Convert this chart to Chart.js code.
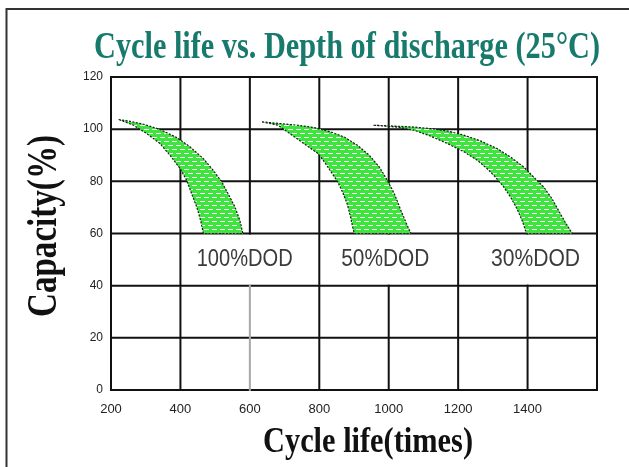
<!DOCTYPE html>
<html>
<head>
<meta charset="UTF-8">
<style>
body {
	margin: 0;
	background: white;
}

#box {
	width: 629px;
	height: 467px;
	position: relative;
}
</style>
<title>Cycle life vs. Depth of discharge</title>
<script src="https://cdn.jsdelivr.net/npm/chart.js@4/dist/chart.umd.min.js"></script>
</head>

<body>
	<div id="box">
		<canvas id="dodChart"></canvas>
	</div>

	<script>
		// cycle life axis and capacity axis
		var cycleTicks = [200, 400, 600, 800, 1000, 1200, 1400, 1600];
		var capacityTicks = [0, 20, 40, 60, 80, 100, 120];

		// 100% DOD band (right/upper edge and left/lower edge)
		var dod100UpperX = [222, 255, 294, 341, 389, 428, 466, 494, 519, 537, 557, 571, 580];
		var dod100UpperY = [103.7, 103.0, 101.9, 99.9, 96.8, 93.2, 88.7, 84.3, 79.8, 75.3, 70.2, 65.1, 60];
		var dod100LowerX = [222, 265, 303, 341, 370, 399, 418, 432, 447, 458, 466];
		var dod100LowerY = [103.7, 101.5, 98.3, 94.5, 90.0, 84.9, 80.4, 75.3, 70.2, 65.1, 60];

		// 50% DOD band
		var dod50UpperX = [635, 691, 738, 786, 834, 872, 910, 944, 973, 996, 1016, 1035, 1051, 1064];
		var dod50UpperY = [102.8, 102.1, 101.5, 100.6, 98.9, 97.0, 93.8, 90.0, 85.5, 80.4, 75.3, 68.9, 63.8, 60];
		var dod50LowerX = [635, 681, 729, 767, 796, 815, 834, 853, 867, 880, 890, 896, 901];
		var dod50LowerY = [102.8, 101.5, 97.0, 93.4, 90.7, 87.4, 83.6, 79.8, 75.9, 71.5, 66.4, 62.5, 60];

		// 30% DOD band
		var dod30UpperX = [956, 1016, 1073, 1121, 1169, 1217, 1264, 1312, 1351, 1389, 1417, 1446, 1470, 1489, 1508, 1529];
		var dod30UpperY = [101.5, 101.2, 100.8, 100.2, 99.3, 97.7, 95.5, 92.6, 89.3, 85.5, 81.7, 77.9, 73.4, 68.9, 64.4, 60];
		var dod30LowerX = [956, 1025, 1073, 1121, 1169, 1217, 1255, 1283, 1307, 1331, 1351, 1369, 1384, 1397];
		var dod30LowerY = [101.5, 100.8, 99.6, 97.3, 94.5, 91.3, 88.1, 84.9, 81.7, 77.9, 74.0, 69.6, 65.1, 60];

		// band labels
		var dodNames = ["100%DOD", "50%DOD", "30%DOD"];
		var dodNameX = [585, 990, 1423];
		var dodNameY = [47.5, 47.5, 47.5];

		function outline(ux, uy, lx, ly) {
			var pts = [];
			for (var i = 0; i < ux.length; i++) {
				pts.push({x : ux[i], y : uy[i]});
			}
			for (var j = lx.length - 1; j >= 0; j--) {
				pts.push({x : lx[j], y : ly[j]});
			}
			return pts;
		}

		// green fill with white dashes
		function hatch() {
			var c = document.createElement("canvas");
			c.width = 8;
			c.height = 8;
			var g = c.getContext("2d");
			g.fillStyle = "#3fe43f";
			g.fillRect(0, 0, 8, 8);
			g.fillStyle = "#ffffff";
			g.fillRect(0, 1, 5, 1);
			g.fillRect(4, 5, 4, 1);
			g.fillRect(0, 5, 1, 1);
			return g.createPattern(c, "repeat");
		}

		function fitText(ctx, text, x, y, font, width, color, rotate) {
			ctx.save();
			ctx.font = font;
			ctx.fillStyle = color;
			ctx.textAlign = "center";
			ctx.textBaseline = "alphabetic";
			var w = ctx.measureText(text).width;
			ctx.translate(x, y);
			if (rotate) {
				ctx.rotate(-Math.PI / 2);
			}
			ctx.scale(width / w, 1);
			ctx.fillText(text, 0, 0);
			ctx.restore();
		}

		var framePlugin = {
			id : "frame",
			beforeDraw : function(chart) {
				var ctx = chart.ctx;
				ctx.save();
				ctx.fillStyle = "#ffffff";
				ctx.fillRect(0, 0, chart.width, chart.height);
				ctx.strokeStyle = "#333";
				ctx.lineWidth = 2;
				ctx.beginPath();
				ctx.moveTo(6.5, 467);
				ctx.lineTo(6.5, 9);
				ctx.lineTo(629, 9);
				ctx.stroke();
				ctx.restore();
			},
			beforeDatasetsDraw : function(chart) {
				var ctx = chart.ctx;
				var xs = chart.scales.x;
				var ys = chart.scales.y;
				function seg(xv, y0, y1, color) {
					var px = xs.getPixelForValue(xv);
					ctx.strokeStyle = color;
					ctx.beginPath();
					ctx.moveTo(px, ys.getPixelForValue(y0));
					ctx.lineTo(px, ys.getPixelForValue(y1));
					ctx.stroke();
				}
				ctx.save();
				ctx.lineWidth = 2;
				ctx.lineCap = "square";
				ctx.strokeStyle = "#111";
				capacityTicks.forEach(function(v) {
					var py = ys.getPixelForValue(v);
					ctx.beginPath();
					ctx.moveTo(xs.left, py);
					ctx.lineTo(xs.right, py);
					ctx.stroke();
				});
				seg(600, 0, 40, "#a8a8a8");
				var black = "#111";
				seg(200, 0, 120, black);
				seg(400, 0, 120, black);
				seg(600, 60, 120, black);
				seg(800, 0, 120, black);
				seg(1000, 60, 120, black);
				seg(1000, 0, 40, black);
				seg(1200, 0, 120, black);
				seg(1400, 60, 120, black);
				seg(1400, 0, 40, black);
				seg(1600, 0, 120, black);
				ctx.restore();
			},
			afterDraw : function(chart) {
				var ctx = chart.ctx;
				var xs = chart.scales.x;
				var ys = chart.scales.y;
				fitText(ctx, "Cycle life vs. Depth of discharge (25\u00b0C)", 347, 58,
						"bold 38px 'Liberation Serif'", 506, "#187a6c", false);
				fitText(ctx, "Cycle life(times)", 368, 452,
						"bold 36px 'Liberation Serif'", 210, "#111", false);
				fitText(ctx, "Capacity(%)", 56, 226,
						"bold 42px 'Liberation Serif'", 182, "#111", true);
				var widths = [96, 88, 89];
				for (var i = 0; i < dodNames.length; i++) {
					fitText(ctx, dodNames[i], xs.getPixelForValue(dodNameX[i]),
							ys.getPixelForValue(dodNameY[i]),
							"24px 'Liberation Sans'", widths[i], "#3a3a3a", false);
				}
			}
		};

		var fillPattern = hatch();

		function band(pts) {
			return {
				data : pts,
				showLine : true,
				fill : "shape",
				backgroundColor : fillPattern,
				borderColor : "#1a1a1a",
				borderWidth : 1.2,
				borderDash : [2, 1.5],
				pointRadius : 0,
				tension : 0
			};
		}

		var ctx = document.getElementById("dodChart");
		var dodChart = new Chart(ctx, {
			type : "line",
			data : {
				datasets : [
						band(outline(dod100UpperX, dod100UpperY, dod100LowerX, dod100LowerY)),
						band(outline(dod50UpperX, dod50UpperY, dod50LowerX, dod50LowerY)),
						band(outline(dod30UpperX, dod30UpperY, dod30LowerX, dod30LowerY)) ]
			},
			options : {
				responsive : true,
				maintainAspectRatio : false,
				animation : false,
				layout : {
					padding : {top : 77, right : 32, left : 0, bottom : 0}
				},
				plugins : {
					legend : {display : false},
					tooltip : {enabled : false}
				},
				scales : {
					x : {
						type : "linear",
						min : cycleTicks[0],
						max : cycleTicks[cycleTicks.length - 1],
						afterBuildTicks : function(scale) {
							scale.ticks = cycleTicks.map(function(v) {
								return {value : v};
							});
						},
						afterFit : function(scale) {
							scale.height = 77;
						},
						grid : {display : false, drawTicks : false},
						border : {display : false},
						ticks : {
							padding : 12,
							color : "#222",
							font : {family : "'Liberation Sans'", size : 13},
							maxRotation : 0,
							callback : function(v) {
								return v === 1600 ? "" : v;
							}
						}
					},
					y : {
						min : capacityTicks[0],
						max : capacityTicks[capacityTicks.length - 1],
						afterBuildTicks : function(scale) {
							scale.ticks = capacityTicks.map(function(v) {
								return {value : v};
							});
						},
						afterFit : function(scale) {
							scale.width = 111;
						},
						grid : {display : false, drawTicks : false},
						border : {display : false},
						ticks : {
							padding : 8,
							color : "#222",
							font : {family : "'Liberation Sans'", size : 12}
						}
					}
				}
			},
			plugins : [ framePlugin ]
		});
	</script>

</body>
</html>
